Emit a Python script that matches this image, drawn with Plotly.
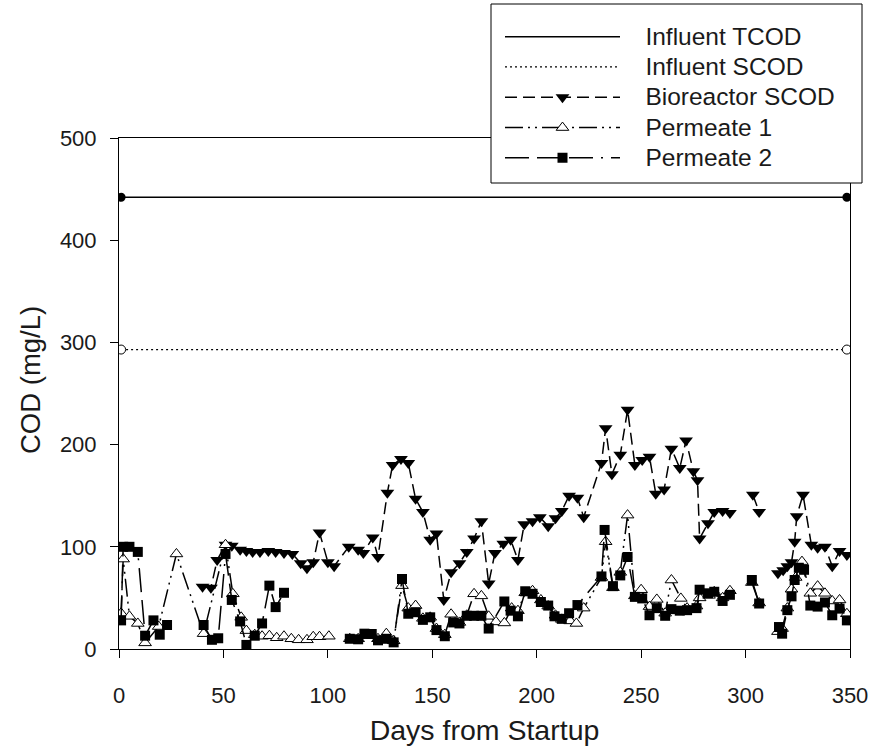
import plotly.graph_objects as go

# ---------------- data ----------------
infl_days = [1, 348.5]
infl_tcod = [442, 442]
infl_scod = [293, 293]

bio_days = [40, 44, 47, 51, 54, 58, 61, 64, 67.5, 71.5, 75, 79, 83, 87, 90, 93, 96, 100, 103, 110,
            114.5, 117, 121.5, 124, 128.5, 131, 135, 138.5, 142, 145.5, 149, 152, 155.5, 159, 163, 166.5,
            170, 173.5, 177, 180, 184, 187.5, 191, 194, 198, 201.5, 205.5, 209, 212, 215.5, 219.5, 222.5,
            231, 233, 236, 240, 243.5, 247, 250.5, 254, 257, 261, 264.5, 268.5, 271.5, 275, 277, 278,
            282, 285, 289, 292.5, None, 303.5, 306.5, None, 315.5, 318, 320, 322, 323.5, 324.5, 327.5,
            331.5, 334.5, 338, 341.5, 345, 348.5]
bio_scod = [61, 60, 87, 102, 101, 97, 96, 95, 95, 96, 95, 94, 93, 84, 79, 85, 114, 85, 81, 100,
            97, 94, 109, 90, 153, 180, 186, 182, 147, 134, 107, 113, 48, 75, 84, 95,
            108, 125, 64, 94, 103, 107, 87, 122, 125, 129, 120, 128, 135, 150, 148, 129,
            182, 216, 171, 190, 234, 180, 185, 188, 152, 156, 196, 177, 204, 174, 165, 108,
            123, 134, 135, 133, None, 151, 134, None, 74, 77, 81, 85, 105, 130, 151,
            102, 99, 100, 81, 96, 92]

p1_days = [1, 2, 5, 9, 12.5, 19, 27.5, 40.5, 51, 54.5, 58.5, 61, 65, 68.5, 72, 75.5, 79, 82.5, 86, 90,
           93, 96, 100.5, None,
           110.5, 114.5, 117.5, 121, 124, 128, 131.5, 135.5, 138.5, 142, 145.5, 149, 152, 156, 159, 163,
           166.5, 170, 173.5, 177, 180.5, 184.5, 188, 191, 194.5, 198, 202, 205.5, 209, 212, 216, 219,
           222.5, 231, 233, 236.5, 240, 243.5, 247, 250, 254, 257.5, 261.5, 264.5, 269, 272, 276.5, 278,
           282.5, 285, 289, 292.5, None, 303, 306.5, None,
           315.5, 317.5, 320, 322, 324, 327, 331, 334.5, 338, 341.5, 345, 348.5]
p1_cod = [35, 88, 32, 25, 6, 22, 93, 15, 102, 54, 31, 18, 14, 12.5, 13, 11, 12.5, 10, 9, 9,
          12, 12, 12.5, None,
          10, 10, 13, 13, 10, 15, 8, 62, 40, 42.5, 30, 31, 20, 14, 34, 26,
          33, 54, 52, 32, 26.5, 25.5, 40, 37.5, 55, 57, 48, 42, 33, 29, 27.5, 25,
          40, 70, 105, 60, 75, 131, 52, 58, 41.5, 48.5, 35, 67.5, 49.5, 40, 42, 50,
          52.5, 56, 50, 57, None, 65, 45, None,
          17, 20, 40, 58.5, 70, 85.5, 54.5, 61.5, 54.5, 47, 48, 34.5]

p2_days = [1, 2, 5, 9, 12.5, 16.5, 19.5, 23, None,
           40.5, 44.5, 47.5, 51, 54, 58, 61, 65, 68.5, 72, 75, 79, None,
           110.5, 114.5, 117.5, 121, 124, 128, 131.5, 135.5, 138.5, 142, 145.5, 149, 152, 156, 160, 163,
           166.5, 170, 173.5, 177, 184.5, 187.5, 191, 194.5, 198, 202, 205.5, 208.5, 212, 215.5, 219.5,
           231, 232.5, 236.5, 240, 243.5, 247, 250.5, 254, 257.5, 261.5, 264.5, 268.5, 272, 276.5, 278,
           282, 285, 289, 292.5, None, 303, 306.5, None,
           316, 317.5, 320, 322, 323.5, 325.5, 328, 331, 334.5, 338, 341.5, 345, 348.5]
p2_cod = [28, 100, 100, 95, 13, 28, 14, 23.5, None,
          23.5, 9, 10.5, 93, 48, 27, 4, 13, 25, 62, 41, 55, None,
          10, 9.5, 15, 14.7, 8.5, 10, 6.5, 68.5, 34.5, 36, 28.5, 31, 18.5, 12.5, 26, 25,
          32.5, 32.5, 32.5, 20, 46.5, 37.5, 32, 56.5, 54, 46, 42.5, 32, 29.5, 35, 43,
          71, 116.5, 61.5, 72, 90, 51, 49.5, 33, 40, 32.5, 39, 37.5, 38, 40, 58,
          54.5, 56, 47, 53, None, 67.5, 44.5, None,
          21.5, 15, 38, 51.5, 67.5, 79.5, 77.5, 42.5, 41.5, 45.5, 33, 39.5, 28]

x_ticks = [0, 50, 100, 150, 200, 250, 300, 350]
y_ticks = [0, 100, 200, 300, 400, 500]

FONT = "Arial, Liberation Sans, sans-serif"
BLACK = "#000000"
TXT = "#1a1a1a"

# plot-area geometry in pixels (for converting legend box / title placement)
L, R, T, B = 119, 850, 138, 649
PW, PH = R - L, B - T


def px_x(p):
    return (p - L) / PW


def px_y(p):
    return (B - p) / PH


def lname(s):
    return '<span style="font-size:24.5px">\u00a0\u00a0\u00a0' + s + '</span>'


fig = go.Figure()

fig.add_trace(go.Scatter(x=infl_days, y=infl_tcod, mode="lines", name=lname("Influent TCOD"),
                         line=dict(color=BLACK, width=1.5)))
fig.add_trace(go.Scatter(x=infl_days, y=infl_tcod, mode="markers", showlegend=False,
                         marker=dict(symbol="circle", size=9, color=BLACK)))
fig.add_trace(go.Scatter(x=infl_days, y=infl_scod, mode="lines", name=lname("Influent SCOD"),
                         line=dict(color=BLACK, width=1.2, dash="2px,3px")))
fig.add_trace(go.Scatter(x=infl_days, y=infl_scod, mode="markers", showlegend=False,
                         marker=dict(symbol="circle", size=9, color="white",
                                     line=dict(color=BLACK, width=1))))
fig.add_trace(go.Scatter(x=bio_days, y=bio_scod, mode="lines+markers", name=lname("Bioreactor SCOD"),
                         line=dict(color=BLACK, width=1.5, dash="12px,6px"),
                         marker=dict(symbol="triangle-down", size=12, color=BLACK)))
fig.add_trace(go.Scatter(x=p1_days, y=p1_cod, mode="lines+markers", name=lname("Permeate 1"),
                         line=dict(color=BLACK, width=1.5, dash="18px,5px,2px,5px,2px,5px"),
                         marker=dict(symbol="triangle-up", size=11, color="white",
                                     line=dict(color=BLACK, width=1))))
fig.add_trace(go.Scatter(x=p2_days, y=p2_cod, mode="lines+markers", name=lname("Permeate 2"),
                         line=dict(color=BLACK, width=1.5,
                                   dash="24px,8px,24px,8px,24px,8px,2px,8px"),
                         marker=dict(symbol="square", size=10, color=BLACK)))

axis_common = dict(showline=True, linecolor=BLACK, linewidth=1, mirror=True,
                   ticks="outside", ticklen=8, tickcolor=BLACK, tickwidth=1,
                   showgrid=False, zeroline=False,
                   tickfont=dict(family=FONT, size=22, color=TXT))

fig.update_layout(
    width=873, height=746,
    margin=dict(l=L, r=873 - R, t=T, b=746 - B, autoexpand=False),
    paper_bgcolor="white", plot_bgcolor="white",
    font=dict(family=FONT, size=22, color=TXT),
    xaxis=dict(range=[0, 350], tickvals=x_ticks, ticklabelstandoff=19,
               title=dict(text="Days from Startup", font=dict(family=FONT, size=28.5, color=TXT),
                          standoff=14),
               **axis_common),
    yaxis=dict(range=[0, 500], tickvals=y_ticks, ticklabelstandoff=9,
               **axis_common),
    legend=dict(x=px_x(500), y=px_y(16.5), xanchor="left", yanchor="top",
                borderwidth=0, bgcolor="rgba(0,0,0,0)",
                font=dict(family=FONT, size=21, color=TXT),
                itemwidth=115, tracegroupgap=0),
    showlegend=True,
    shapes=[dict(type="rect", xref="paper", yref="paper", layer="above",
                 x0=px_x(491), x1=px_x(862), y0=px_y(183), y1=px_y(4),
                 line=dict(color=BLACK, width=1), fillcolor="white")],
    annotations=[dict(text="COD (mg/L)", xref="paper", yref="paper",
                      x=px_x(30), y=px_y(380), textangle=-90, showarrow=False,
                      xanchor="center", yanchor="middle",
                      font=dict(family=FONT, size=27.5, color=TXT))],
)

fig.write_html("out.html")
